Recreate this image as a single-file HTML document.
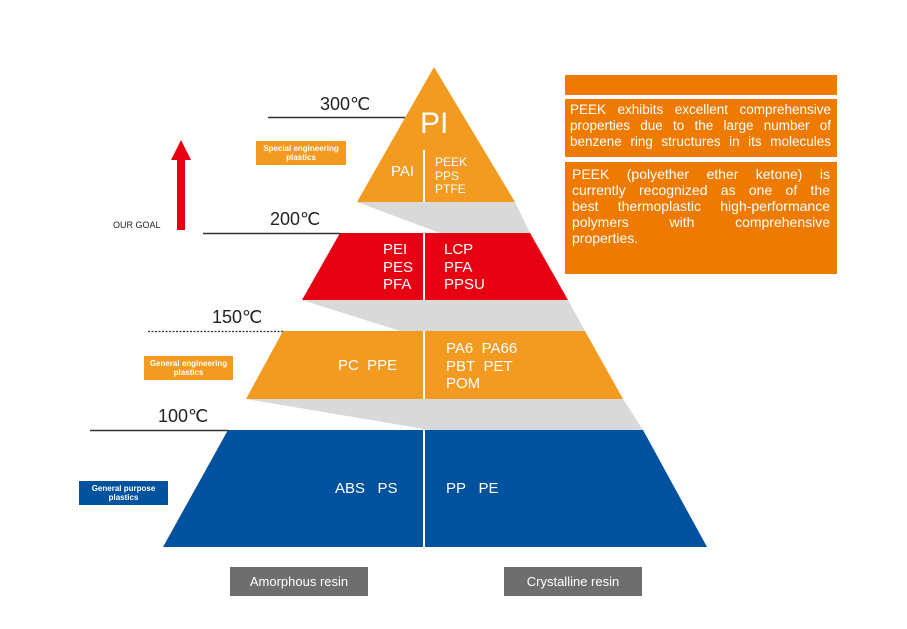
<!DOCTYPE html>
<html><head><style>
body{margin:0;background:#fff;width:907px;height:629px;overflow:hidden;font-family:"Liberation Sans",sans-serif}
.t{position:absolute;color:#fff;font-size:15px;line-height:18px}
.lab{position:absolute;color:#fff;font-size:8px;font-weight:bold;text-align:center;line-height:9px;padding-top:3px;box-sizing:border-box}
.rb{position:absolute;background:#ee7a00;color:#fff;font-size:13.5px;line-height:16px;box-sizing:border-box}
.rb div{text-align:justify;text-align-last:justify;white-space:nowrap}
.rb div.l{text-align-last:left}
.deg{position:absolute;color:#222;font-size:18px}
.gb{position:absolute;background:#6e6e6e;color:#fff;font-size:13px;text-align:center;line-height:29px;height:29px}
</style></head><body>
<svg width="907" height="629" style="position:absolute;left:0;top:0">
<polygon points="357,202 515,202 530,233 440,233" fill="#d9d9d9"/>
<polygon points="302,300 568,300 585,331 400,331" fill="#d9d9d9"/>
<polygon points="246,399 623,399 643,430 430,430" fill="#d9d9d9"/>
<polygon points="434,67 515,202 357,202" fill="#f29b20"/>
<polygon points="340,233 530,233 568,300 302,300" fill="#e60012"/>
<polygon points="283,331 585,331 623,399 246,399" fill="#f29b20"/>
<polygon points="228,430 643,430 707,547 163,547" fill="#00519e"/>
<line x1="424" y1="150" x2="424" y2="202" stroke="#fff" stroke-width="2"/>
<line x1="424" y1="233" x2="424" y2="300" stroke="#fff" stroke-width="2"/>
<line x1="424" y1="331" x2="424" y2="399" stroke="#fff" stroke-width="2"/>
<line x1="424" y1="430" x2="424" y2="547" stroke="#fff" stroke-width="2"/>
<line x1="268" y1="117.5" x2="405" y2="117.5" stroke="#333" stroke-width="1.5"/>
<line x1="203" y1="233.5" x2="340" y2="233.5" stroke="#333" stroke-width="1.5"/>
<line x1="148" y1="331.5" x2="283" y2="331.5" stroke="#333" stroke-width="1.2" stroke-dasharray="2,1.5"/>
<line x1="90" y1="430.5" x2="228" y2="430.5" stroke="#333" stroke-width="1.5"/>
<polygon points="181,140 191,160 185,160 185,230 177,230 177,160 171,160" fill="#e60012"/>
</svg>
<div class="deg" style="left:320px;top:94px">300℃</div>
<div class="deg" style="left:270px;top:209px">200℃</div>
<div class="deg" style="left:212px;top:307px">150℃</div>
<div class="deg" style="left:158px;top:406px">100℃</div>
<div style="position:absolute;left:113px;top:220px;font-size:9px;color:#222">OUR GOAL</div>
<div class="lab" style="left:256px;top:141px;width:90px;height:24px;background:#f29b20">Special engineering<br>plastics</div>
<div class="lab" style="left:144px;top:356px;width:89px;height:24px;background:#f29b20">General engineering<br>plastics</div>
<div class="lab" style="left:79px;top:481px;width:89px;height:24px;background:#00519e">General purpose<br>plastics</div>
<div class="t" style="left:420px;top:108px;font-size:30px;line-height:32px">PI</div>
<div class="t" style="left:391px;top:163px;font-size:15px">PAI</div>
<div class="t" style="left:435px;top:156px;font-size:12px;line-height:13.5px">PEEK<br>PPS<br>PTFE</div>
<div class="t" style="left:383px;top:241px;line-height:17.5px">PEI<br>PES<br>PFA</div>
<div class="t" style="left:444px;top:241px;line-height:17.5px">LCP<br>PFA<br>PPSU</div>
<div class="t" style="left:338px;top:357px">PC&nbsp;&nbsp;PPE</div>
<div class="t" style="left:446px;top:340px;line-height:17.5px">PA6&nbsp;&nbsp;PA66<br>PBT&nbsp;&nbsp;PET<br>POM</div>
<div class="t" style="left:335px;top:480px">ABS&nbsp;&nbsp;&nbsp;PS</div>
<div class="t" style="left:446px;top:480px">PP&nbsp;&nbsp;&nbsp;PE</div>
<div class="rb" style="left:565px;top:75px;width:272px;height:20px"></div>
<div class="rb" style="left:565px;top:99px;width:272px;height:58px;padding:3px 6px 0 5px"><div>PEEK exhibits excellent comprehensive</div><div>properties due to the large number of</div><div>benzene ring structures in its molecules</div></div>
<div class="rb" style="left:565px;top:162px;width:272px;height:112px;padding:4px 7px 0 7px;font-size:14px;line-height:16px"><div>PEEK (polyether ether ketone) is</div><div>currently recognized as one of the</div><div>best thermoplastic high-performance</div><div>polymers with comprehensive</div><div class="l">properties.</div></div>
<div class="gb" style="left:230px;top:567px;width:138px">Amorphous resin</div>
<div class="gb" style="left:504px;top:567px;width:138px">Crystalline resin</div>
</body></html>
